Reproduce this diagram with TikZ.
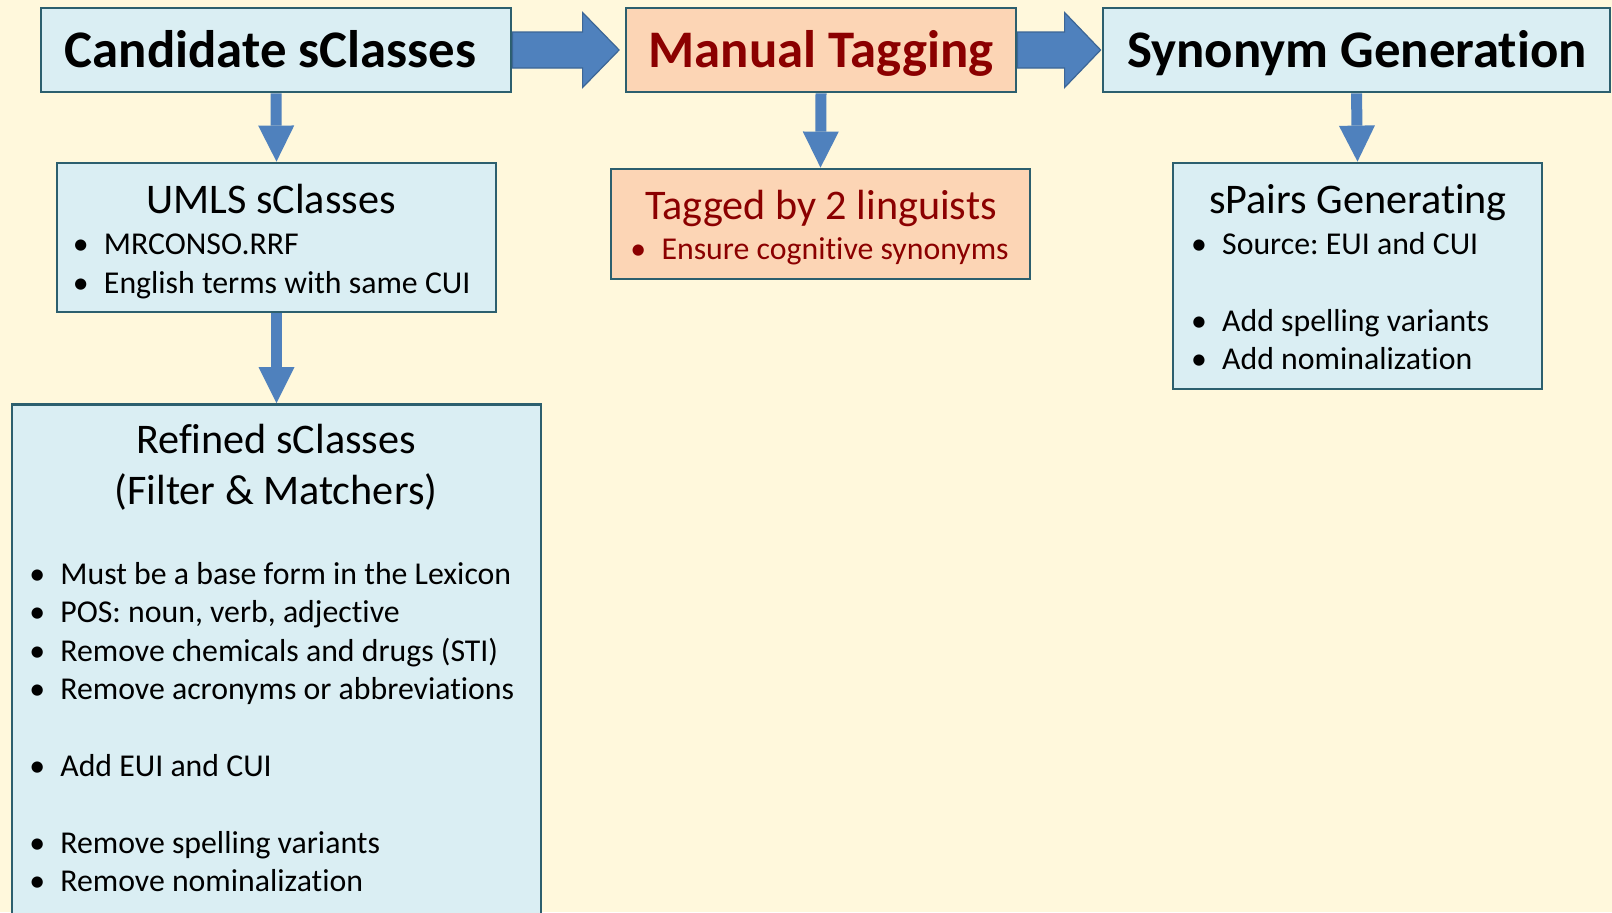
\documentclass[tikz,border=0pt]{standalone}
\usepackage{fontspec}
\setmainfont{Carlito}[Ligatures=NoCommon]
\usepackage{tikz}
\usetikzlibrary{arrows.meta}
\usetikzlibrary{calc}
\usepackage{xcolor}
\definecolor{bgyellow}{HTML}{FFF8DC}
\definecolor{boxblue}{HTML}{DAEEF3}
\definecolor{boxorange}{HTML}{FCD5B5}
\definecolor{boxline}{HTML}{2C5F6E}
\definecolor{arrowblue}{HTML}{4F81BD}
\definecolor{arrowline}{HTML}{3C6696}
\definecolor{tagred}{HTML}{8B0000}
\newcommand{\itemdot}{\makebox[0pt]{\textbullet}\hspace{11.6pt}}
\frenchspacing

\begin{document}
\begin{tikzpicture}[x=0.5pt,y=-0.5pt,
		bluebox/.style={draw=boxline, line width=1.4pt, fill=boxblue, inner sep=0pt},
		orangebox/.style={bluebox, fill=boxorange},
		headtext/.style={font=\fontsize{26.4}{30}\selectfont\bfseries, anchor=base, inner sep=0pt},
		subtext/.style={font=\fontsize{21.1}{25}\selectfont, anchor=base, inner sep=0pt},
		itemtext/.style={font=\fontsize{15.9}{19}\selectfont, anchor=base west, inner sep=0pt},
		blockarrow/.style={fill=arrowblue, draw=arrowline, line width=0.6pt},
		downarrow/.style={draw=arrowblue, line width=5.5pt, -{Triangle[width=18pt,length=18pt,line width=0pt]}}]
			\useasboundingbox (0,0) rectangle (1612,912);
			\clip (0,0) rectangle (1612,912);
			\fill[bgyellow] (0,0) rectangle (1612,912);
			% top row
			\node[bluebox, minimum width=235pt, minimum height=42pt] (cand) at (276,50) {};
			\node[orangebox, minimum width=195pt, minimum height=42pt] (manual) at (821,50) {};
			\node[bluebox, minimum width=253.5pt, minimum height=42pt] (syn) at (1356.5,50) {};
			\node[headtext] (candtitle) at (270.5,67) {Candidate sClasses};
			\node[headtext, text=tagred] (manualtitle) at (821,67) {Manual Tagging};
			\node[headtext] (syntitle) at (1357,67) {Synonym Generation};
			% lower boxes
			\node[bluebox, minimum width=219.5pt, minimum height=74.5pt] (umls) at (276.5,237.5) {};
			\node[bluebox, minimum width=264.5pt, minimum height=270pt, anchor=north] (refined) at (276.5,403) {};
			\node[orangebox, minimum width=209.5pt, minimum height=55pt] (tagged) at (820.5,224) {};
			\node[bluebox, minimum width=184.5pt, minimum height=113pt] (spairs) at (1357.5,276) {};
			% UMLS
			\node[subtext] (umlstitle) at (271,213) {UMLS sClasses};
			\node[itemtext] (umlsa) at (80.4,254) {\itemdot MRCONSO.RRF};
			\node[itemtext] (umlsb) at (80.4,293) {\itemdot English terms with same CUI};
			% refined
			\node[subtext] (reftitle) at (276,453) {Refined sClasses};
			\node[subtext] (refsub) at (276,504) {(Filter \& Matchers)};
			\node[itemtext] (refa) at (36.8,584) {\itemdot Must be a base form in the Lexicon};
			\node[itemtext] (refb) at (36.8,622) {\itemdot POS: noun, verb, adjective};
			\node[itemtext] (refc) at (36.8,661) {\itemdot Remove chemicals and drugs (STI)};
			\node[itemtext] (refd) at (36.8,699) {\itemdot Remove acronyms or abbreviations};
			\node[itemtext] (refe) at (36.8,776) {\itemdot Add EUI and CUI};
			\node[itemtext] (reff) at (36.8,853) {\itemdot Remove spelling variants};
			\node[itemtext] (refg) at (36.8,891) {\itemdot Remove nominalization};
			% tagged
			\node[subtext, text=tagred] (tagtitle) at (821,219) {Tagged by 2 linguists};
			\node[itemtext, text=tagred] (taga) at (638,259) {\itemdot Ensure cognitive synonyms};
			% spairs
			\node[subtext] (sptitle) at (1358,213) {sPairs Generating};
			\node[itemtext] (spa) at (1198.6,254) {\itemdot Source: EUI and CUI};
			\node[itemtext] (spb) at (1198.6,331) {\itemdot Add spelling variants};
			\node[itemtext] (spc) at (1198.6,369) {\itemdot Add nominalization};
			% arrows
			\draw[blockarrow] ($(cand.east)+(0,-18)$) -- ($(manual.west)+(-42,-18)$) -- ($(manual.west)+(-42,-37.5)$)
				-- ($(manual.west)+(-5.5,0)$) -- ($(manual.west)+(-42,37.5)$) -- ($(manual.west)+(-42,18)$)
				-- ($(cand.east)+(0,18)$) -- cycle;
			\draw[blockarrow] ($(manual.east)+(0,-18)$) -- ($(syn.west)+(-37,-18)$) -- ($(syn.west)+(-37,-37.5)$)
				-- ($(syn.west)+(-1,0)$) -- ($(syn.west)+(-37,37.5)$) -- ($(syn.west)+(-37,18)$)
				-- ($(manual.east)+(0,18)$) -- cycle;
			\draw[downarrow] (cand.south) -- (umls.north);
			\draw[downarrow] (umls.south) -- (refined.north);
			\draw[downarrow] (manual.south) -- (tagged.north);
			\draw[downarrow] (syn.south) -- (spairs.north);
		\end{tikzpicture}
\end{document}
